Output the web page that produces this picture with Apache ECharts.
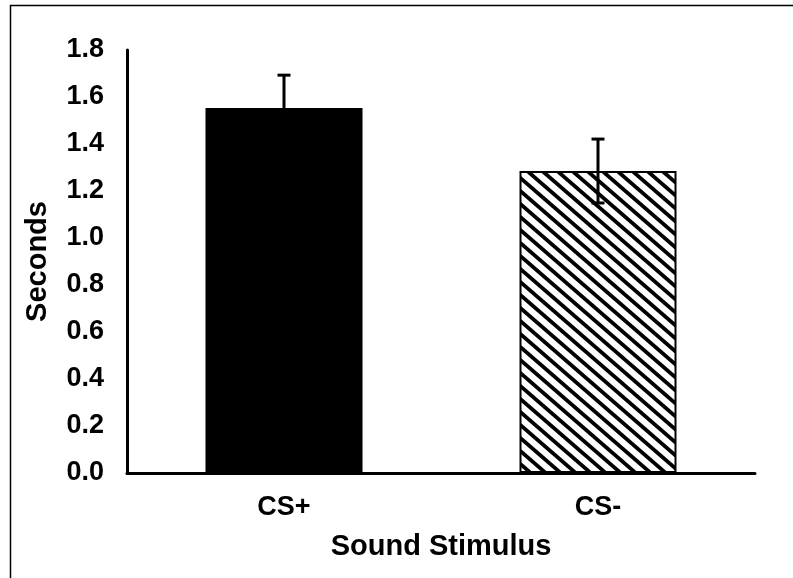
<!DOCTYPE html>
<html>
<head>
<meta charset="utf-8">
<script src="https://cdn.jsdelivr.net/npm/echarts@6/dist/echarts.min.js"></script>
<style>
html,body{margin:0;padding:0;background:#fff;}
#chart{width:793px;height:578px;}
</style>
</head>
<body>
<div id="chart"></div>
<script>
var categories = ['CS+', 'CS-'];
var means = [1.553, 1.285];
var errors = [0.14, 0.136];
var yTicks = [0, 0.2, 0.4, 0.6, 0.8, 1.0, 1.2, 1.4, 1.6, 1.8];

function makeHatch() {
  var W = 15, H = 13;
  var c = document.createElement('canvas');
  c.width = W; c.height = H;
  var ctx = c.getContext('2d');
  ctx.fillStyle = '#fff';
  ctx.fillRect(0, 0, W, H);
  ctx.strokeStyle = '#000';
  ctx.lineWidth = 3.8;
  for (var k = -1; k <= 1; k++) {
    ctx.beginPath();
    ctx.moveTo(k * W - W, -H);
    ctx.lineTo(k * W + 2 * W, 2 * H);
    ctx.stroke();
  }
  return c;
}

var chart = echarts.init(document.getElementById('chart'), null, {renderer: 'canvas'});
var hatch = makeHatch();
var font = '"Liberation Sans", Arial, sans-serif';

var barData = means.map(function (v, i) {
  if (i === 0) {
    return {value: v, itemStyle: {color: '#000', borderColor: '#000', borderWidth: 0}};
  }
  return {value: v, itemStyle: {color: {image: hatch, repeat: 'repeat'}, borderColor: '#000', borderWidth: 2}};
});

var errData = means.map(function (v, i) { return [i, v - errors[i], v + errors[i]]; });

chart.setOption({
  animation: false,
  backgroundColor: '#fff',
  grid: {left: 127, right: 38, top: 50, bottom: 105, containLabel: false},
  xAxis: {
    type: 'category',
    data: categories,
    axisLine: {lineStyle: {color: '#000', width: 3}},
    axisTick: {show: false},
    axisLabel: {color: '#000', fontFamily: font, fontWeight: 'bold', fontSize: 27, margin: 21},
    name: 'Sound Stimulus',
    nameLocation: 'middle',
    nameGap: 59,
    nameTextStyle: {color: '#000', fontFamily: font, fontWeight: 'bold', fontSize: 29}
  },
  yAxis: {
    type: 'value',
    min: 0,
    max: 1.8,
    interval: 0.2,
    axisLine: {show: true, lineStyle: {color: '#000', width: 3}},
    axisTick: {show: false},
    splitLine: {show: false},
    axisLabel: {color: '#000', fontFamily: font, fontWeight: 'bold', fontSize: 27, margin: 23,
      formatter: function (v) { return v.toFixed(1); }},
    name: 'Seconds',
    nameLocation: 'middle',
    nameGap: 75,
    nameRotate: 90,
    nameTextStyle: {color: '#000', fontFamily: font, fontWeight: 'bold', fontSize: 29}
  },
  graphic: [{
    type: 'rect',
    shape: {x: 10.5, y: 5.5, width: 1000, height: 1000},
    style: {fill: 'none', stroke: '#000', lineWidth: 1.5},
    silent: true,
    z: 100
  }],
  series: [{
    type: 'bar',
    data: barData,
    barWidth: '50%',
    z: 2
  }, {
    type: 'custom',
    data: errData,
    z: 5,
    renderItem: function (params, api) {
      var x = api.value(0);
      var lo = api.coord([x, api.value(1)]);
      var hi = api.coord([x, api.value(2)]);
      var hw = 6.5;
      var st = {stroke: '#000', lineWidth: 3};
      return {
        type: 'group',
        children: [
          {type: 'line', shape: {x1: lo[0], y1: lo[1], x2: hi[0], y2: hi[1]}, style: st},
          {type: 'line', shape: {x1: hi[0] - hw, y1: hi[1], x2: hi[0] + hw, y2: hi[1]}, style: st},
          {type: 'line', shape: {x1: lo[0] - hw, y1: lo[1], x2: lo[0] + hw, y2: lo[1]}, style: st}
        ]
      };
    }
  }]
});
</script>
</body>
</html>
